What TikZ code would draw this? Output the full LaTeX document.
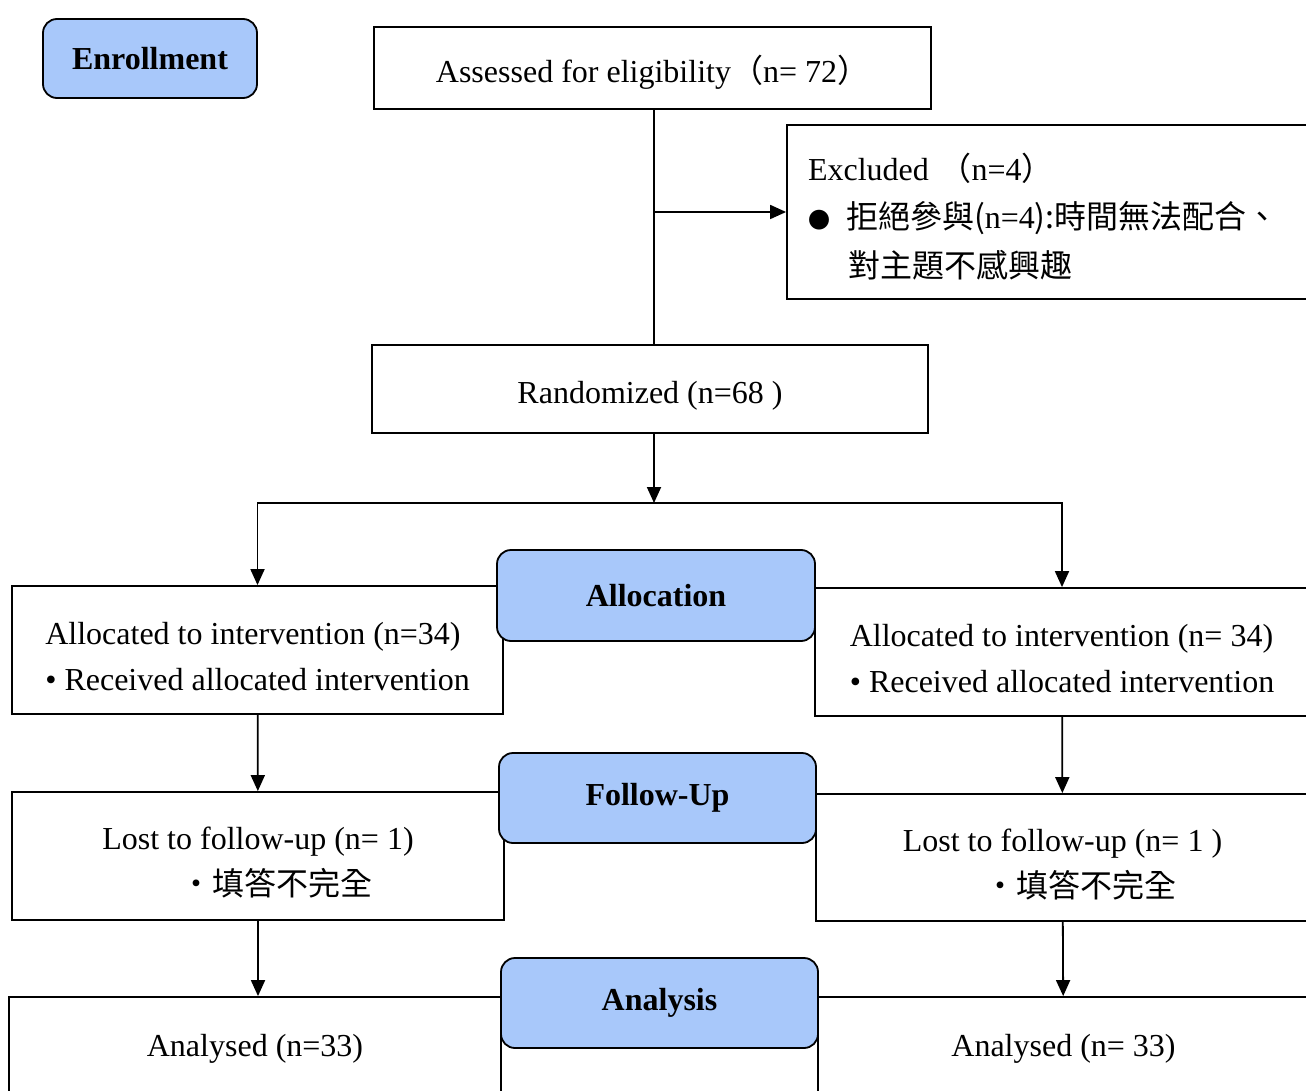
\documentclass[tikz,border=0pt]{standalone}
\usepackage{fontspec}
\setmainfont{Liberation Serif}
\newfontfamily\cjk{Noto Sans CJK TC}
\usetikzlibrary{arrows.meta,positioning}
\definecolor{phaseblue}{HTML}{A8C8FA}
\newcommand\tstrut{\rule{0pt}{36pt}}

\begin{document}
\begin{tikzpicture}[x=1pt,y=-1pt,
    box/.style={draw=black,line width=1.8pt,fill=white,rectangle,inner sep=0pt,font=\fontsize{32}{46}\selectfont},
    phase/.style={draw=black,line width=1.8pt,fill=phaseblue,rounded corners=14pt,inner sep=0pt,font=\fontsize{32}{38}\selectfont\bfseries},
    arr/.style={line width=1.8pt,-{Triangle[length=16pt,width=14pt]}}]
    \useasboundingbox (0,0) rectangle (1306,1091);
    % enrollment
    \node[phase,minimum width=214pt,minimum height=79pt] (enroll) at (150,58.5) {Enrollment};
    \node[box,minimum width=557pt,minimum height=82pt] (assess) at (652.5,68) {\tstrut Assessed for eligibility{\cjk （}n= 72{\cjk ）}};
    \node[box,minimum width=553pt,minimum height=174pt,text width=511pt,align=left,
        font=\fontsize{32}{48.5}\selectfont] (excl) at (1063.5,212)
        {\tstrut Excluded {\cjk （}n=4{\cjk ）}\\
         {\fontsize{22}{22}\selectfont\cjk ●}\hspace{16pt}{\cjk 拒絕參與(}n=4{\cjk ):時間無法配合、}\\
         \hspace*{40pt}{\cjk 對主題不感興趣}};
    \node[box,minimum width=556pt,minimum height=88pt] (rand) at (650,389) {\tstrut Randomized (n=68 )};
    \coordinate (split) at (654,503);
    % two arms
    \node[box,minimum width=491pt,minimum height=128pt,align=left] (allocL) at (257.5,650)
        {\tstrut Allocated to intervention (n=34)\\\textbullet\ Received allocated intervention};
    \node[box,minimum width=494pt,minimum height=128pt,align=left] (allocR) at (1062,652)
        {\tstrut Allocated to intervention (n= 34)\\\textbullet\ Received allocated intervention};
    \node[box,minimum width=492pt,minimum height=128pt,align=center] (fuL) at (258,856)
        {\tstrut Lost to follow-up (n= 1)\\\hspace*{36pt}{\cjk ・填答不完全}};
    \node[box,minimum width=493pt,minimum height=127pt,align=center] (fuR) at (1062.5,857.5)
        {\tstrut Lost to follow-up (n= 1 )\\\hspace*{36pt}{\cjk ・填答不完全}};
    \node[box,minimum width=492pt,minimum height=128pt,align=center] (anL) at (255,1061)
        {\tstrut Analysed (n=33)\\~};
    \node[box,minimum width=491pt,minimum height=128pt,align=center] (anR) at (1063.5,1061)
        {\tstrut Analysed (n= 33)\\~};
    % phase labels
    \node[phase,minimum width=318pt,minimum height=91pt] (alloc) at (656,595.5) {Allocation};
    \node[phase,minimum width=317pt,minimum height=90pt] (fu) at (657.5,798) {Follow-Up};
    \node[phase,minimum width=317pt,minimum height=90pt] (an) at (659.5,1003) {Analysis};
    % connectors
    \draw[line width=1.8pt] (assess.south -| split) -- (rand.north -| split);
    \draw[arr] (excl.west -| split) -- (excl.west);
    \draw[arr] (rand.south -| split) -- (split);
    \draw[arr] (split) -| (allocL.north);
    \draw[arr] (split) -| (allocR.north);
    \draw[arr] (allocL) -- (fuL);
    \draw[arr] (fuL.south) -- (fuL.south |- anL.north);
    \draw[arr] (allocR) -- (fuR);
    \draw[arr] (fuR) -- (anR);
\end{tikzpicture}
\end{document}
